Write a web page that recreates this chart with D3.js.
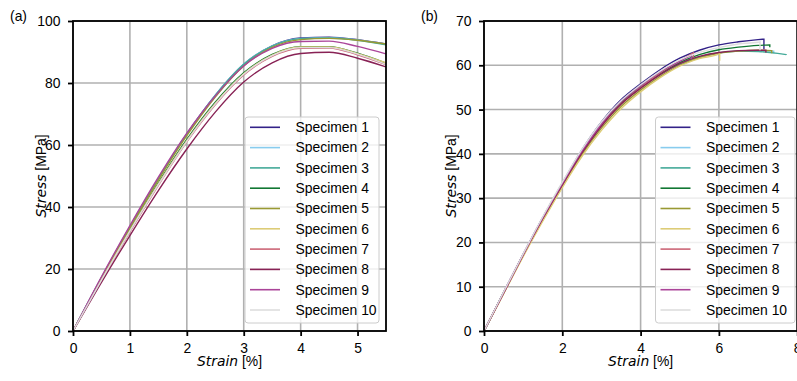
<!DOCTYPE html>
<html>
<head>
<meta charset="utf-8">
<script src="https://cdn.jsdelivr.net/npm/d3@7"></script>
<style>
body { margin: 0; background: #fff; }
svg { display: block; }
text { font-family: "Liberation Sans", Arial, sans-serif; font-size: 13.9px; fill: #000; }
.ital { font-family: "DejaVu Sans", sans-serif; font-style: italic; }
</style>
</head>
<body>
<svg id="chart" width="797" height="381"></svg>
<script>
var specimens = ["Specimen 1", "Specimen 2", "Specimen 3", "Specimen 4", "Specimen 5",
	"Specimen 6", "Specimen 7", "Specimen 8", "Specimen 9", "Specimen 10"];
var colors = ["#332288", "#88ccee", "#44aa99", "#117733", "#999933",
	"#ddcc77", "#cc6677", "#882255", "#aa4499", "#dddddd"];

// panel (a)
var strainA = [0, 0.5, 1, 1.5, 2, 2.5, 3, 3.5, 4, 4.5, 5, 5.5];
var stressA = [
	[0, 17.0, 33.5, 49.0, 63.5, 76.0, 86.0, 92.0, 94.5, 94.8, 94.0, 92.6],
	[0, 17.2, 33.7, 49.2, 63.6, 76.1, 86.1, 92.0, 94.4, 94.6, 93.9, 92.5],
	[0, 17.2, 33.6, 49.1, 63.5, 76.0, 86.0, 91.9, 94.3, 94.5, 93.8, 92.3],
	[0, 16.6, 32.6, 47.8, 61.8, 73.8, 83.3, 89.2, 91.7, 91.7, 89.6, 86.4],
	[0, 17.0, 33.3, 48.7, 63.0, 75.5, 85.5, 91.5, 94.0, 94.4, 93.8, 92.6],
	[0, 16.5, 32.4, 47.5, 61.4, 73.4, 83.0, 89.0, 91.6, 91.6, 89.5, 86.5],
	[0, 16.3, 32.0, 47.0, 61.0, 73.0, 82.6, 88.6, 91.2, 91.3, 89.1, 85.9],
	[0, 15.7, 30.8, 45.3, 58.7, 70.6, 80.3, 86.5, 89.5, 89.9, 88.0, 85.2],
	[0, 17.5, 34.0, 49.6, 63.8, 75.8, 85.5, 91.2, 93.4, 93.5, 91.8, 89.4],
	[0, 16.4, 32.2, 47.2, 61.2, 73.2, 82.8, 88.8, 91.4, 91.4, 89.3, 86.0]
];
var xTicksA = [0, 1, 2, 3, 4, 5];
var yTicksA = [0, 20, 40, 60, 80, 100];

// panel (b)
var strainB = [0, 0.5, 1, 1.5, 2, 2.5, 3, 3.5, 4, 4.5, 5, 5.5, 6, 6.5, 7, 7.5];
var stressB = [
	[0, 8.7, 17.3, 25.6, 33.4, 40.9, 47.2, 52.2, 55.8, 59.0, 61.6, 63.4, 64.6, 65.3, 65.8],
	[0, 8.7, 17.3, 25.6, 33.3, 40.6, 46.7, 51.5, 55.0, 58.0, 60.3, 61.9, 62.8, 63.2, 63.3],
	[0, 8.6, 17.2, 25.4, 33.1, 40.4, 46.5, 51.4, 55.0, 58.0, 60.3, 61.9, 62.8, 63.2, 63.1, 62.7],
	[0, 8.6, 17.1, 25.3, 33.0, 40.2, 46.4, 51.4, 55.0, 58.1, 60.6, 62.4, 63.5, 64.1, 64.5],
	[0, 8.5, 17.0, 25.1, 32.7, 39.8, 45.8, 50.7, 54.4, 57.5, 60.0, 61.7, 62.7, 63.2, 63.4],
	[0, 8.4, 16.8, 24.8, 32.4, 39.4, 45.3, 50.2, 54.0, 57.2, 59.8, 61.5, 62.6],
	[0, 8.6, 17.2, 25.4, 33.1, 40.3, 46.4, 51.3, 55.0, 58.3, 61.0],
	[0, 8.6, 17.2, 25.4, 33.0, 40.2, 46.3, 51.2, 54.8, 57.9, 60.4, 62.0, 62.9, 63.3, 63.4],
	[0, 8.7, 17.3, 25.6, 33.3, 40.6, 46.8, 51.8, 55.4, 58.5, 60.9],
	[0, 8.8, 17.4, 25.8, 33.6, 41.0, 47.2, 52.0, 55.6, 58.7, 61.2, 62.9, 64.0, 64.8, 65.2]
];
// [strain at failure, stress before drop, stress after drop]
var breakB = [
	[7.15, 65.9, 63.6], [7.4, 63.2, 62.7], [7.72, 62.4, 62.4], [7.3, 64.6, 64.1],
	[7.35, 63.3, 62.7], [6.02, 62.7, 61.0], [5.35, 62.8, 61.6], [7.2, 63.4, 62.9],
	[5.3, 62.3, 61.4], [7.05, 65.3, 63.4]
];
var xTicksB = [0, 2, 4, 6, 8];
var yTicksB = [0, 10, 20, 30, 40, 50, 60, 70];

var svg = d3.select("#chart");
var top0 = 21, bottom0 = 331;

var panels = [{
	tag: "(a)", tagX: 10, left: 73, right: 386, xDomain: [0, 5.5], yDomain: [0, 100],
	xTicks: xTicksA, yTicks: yTicksA, ylabX: 46, legendX: 245, legendW: 134,
	series: stressA.map(function(s) {
		return { pts: s.map(function(v, j) { return [strainA[j], v]; }), brk: null };
	})
}, {
	tag: "(b)", tagX: 421, left: 484, right: 797.2, xDomain: [0, 8], yDomain: [0, 70],
	xTicks: xTicksB, yTicks: yTicksB, ylabX: 456, legendX: 655.5, legendW: 139.5,
	series: stressB.map(function(s, i) {
		var pts = s.map(function(v, j) { return [strainB[j], v]; });
		pts.push([breakB[i][0], breakB[i][1]]);
		return { pts: pts, brk: breakB[i][2] };
	})
}];

panels.forEach(function(p, k) {
	drawPanel(p, k);
});

function drawPanel(p, k) {
	var x = d3.scaleLinear().domain(p.xDomain).range([p.left, p.right]);
	var y = d3.scaleLinear().domain(p.yDomain).range([bottom0, top0]);
	var g = svg.append("g");

	// grid
	g.selectAll(".gx").data(p.xTicks).enter().append("line")
		.attr("x1", function(d) { return x(d); })
		.attr("x2", function(d) { return x(d); })
		.attr("y1", top0).attr("y2", bottom0)
		.attr("stroke", "#b0b0b0").attr("stroke-width", 1.6);
	g.selectAll(".gy").data(p.yTicks).enter().append("line")
		.attr("x1", p.left).attr("x2", p.right)
		.attr("y1", function(d) { return y(d); })
		.attr("y2", function(d) { return y(d); })
		.attr("stroke", "#b0b0b0").attr("stroke-width", 1.6);

	svg.append("clipPath").attr("id", "clip" + k)
		.append("rect")
		.attr("x", p.left).attr("y", top0)
		.attr("width", p.right - p.left).attr("height", bottom0 - top0);

	var line = d3.line()
		.x(function(d) { return x(d[0]); })
		.y(function(d) { return y(d[1]); })
		.curve(d3.curveMonotoneX);

	g.append("g").attr("clip-path", "url(#clip" + k + ")")
		.selectAll("path").data(p.series).enter().append("path")
		.attr("d", function(d) {
			var path = line(d.pts);
			if (d.brk != null) path += "V" + y(d.brk);
			return path;
		})
		.attr("fill", "none")
		.attr("stroke", function(d, i) { return colors[i]; })
		.attr("stroke-width", 1.4);

	// axes
	g.append("g").attr("transform", "translate(0," + bottom0 + ")")
		.call(d3.axisBottom(x).tickValues(p.xTicks).tickSize(5).tickPadding(7.5)
			.tickFormat(d3.format("d")))
		.call(function(a) {
			a.select(".domain").remove();
			a.selectAll("line").attr("stroke-width", 1.8);
		});
	g.append("g").attr("transform", "translate(" + p.left + ",0)")
		.call(d3.axisLeft(y).tickValues(p.yTicks).tickSize(5).tickPadding(7.5)
			.tickFormat(d3.format("d")))
		.call(function(a) {
			a.select(".domain").remove();
			a.selectAll("line").attr("stroke-width", 1.8);
		});

	// spines
	g.append("rect")
		.attr("x", p.left).attr("y", top0)
		.attr("width", p.right - p.left).attr("height", bottom0 - top0)
		.attr("fill", "none").attr("stroke", "#000").attr("stroke-width", 1.8);

	// labels
	var xl = g.append("text")
		.attr("x", (p.left + p.right) / 2).attr("y", 366)
		.attr("text-anchor", "middle");
	xl.append("tspan").attr("class", "ital").text("Strain");
	xl.append("tspan").text(" [%]");

	var yl = g.append("text")
		.attr("transform", "translate(" + p.ylabX + "," + (top0 + bottom0) / 2 + ") rotate(-90)")
		.attr("text-anchor", "middle");
	yl.append("tspan").attr("class", "ital").text("Stress");
	yl.append("tspan").text(" [MPa]");

	g.append("text").attr("x", p.tagX).attr("y", 21).text(p.tag);

	// legend
	var lg = g.append("g");
	lg.append("rect")
		.attr("x", p.legendX).attr("y", 117)
		.attr("width", p.legendW).attr("height", 206)
		.attr("rx", 3)
		.attr("fill", "#fff").attr("fill-opacity", 0.8)
		.attr("stroke", "#cccccc").attr("stroke-width", 1);
	var rows = lg.selectAll(".row").data(specimens).enter().append("g")
		.attr("transform", function(d, i) {
			return "translate(" + (p.legendX + 5) + "," + (127.3 + i * 20.3) + ")";
		});
	rows.append("line")
		.attr("x1", 0).attr("x2", 30)
		.attr("stroke", function(d, i) { return colors[i]; })
		.attr("stroke-width", 1.6);
	rows.append("text")
		.attr("x", 45.5).attr("dy", "0.35em")
		.text(function(d) { return d; });
}
</script>
</body>
</html>
